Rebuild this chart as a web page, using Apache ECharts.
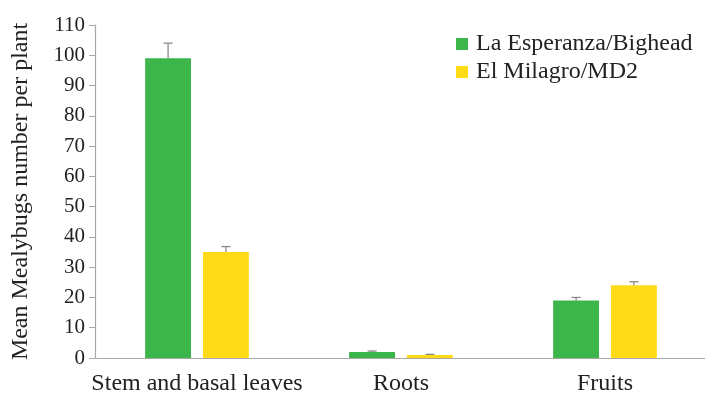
<!DOCTYPE html>
<html>
<head>
<meta charset="utf-8">
<script src="https://cdn.jsdelivr.net/npm/echarts@6/dist/echarts.min.js"></script>
<style>
  html, body { margin: 0; padding: 0; background: #fff; }
  #chart { width: 705px; height: 393px; }
</style>
</head>
<body>
<div id="chart"></div>
<script>
// Plant parts sampled
const categories = ['Stem and basal leaves', 'Roots', 'Fruits'];
const seriesNames = ['La Esperanza/Bighead', 'El Milagro/MD2'];
// Mean mealybug counts per plant
const esperanzaMeans = [99, 2, 19];
const milagroMeans = [35, 1, 24];
// Standard error (upper whisker size)
const esperanzaErr = [5, 0.3, 1];
const milagroErr = [1.8, 0.2, 1.2];
const yTicks = { min: 0, max: 110, step: 10 };

const COLORS = ['#3cb54a', '#ffdb17'];
const BAR_W = 0.225;   // fraction of the category band
const BAR_GAP = 0.26;  // fraction of the bar width
const FONT = '"Liberation Serif", "DejaVu Serif", serif';
const TEXT = '#222';

function errorSeries(means, errs, sideSign) {
  return {
    type: 'custom',
    silent: true,
    z: 3,
    data: means.map((m, i) => [i, m, m + errs[i]]),
    renderItem: function (params, api) {
      const band = api.size([1, 0])[0];
      const w = band * BAR_W;
      const off = sideSign * (w + w * BAR_GAP) / 2;
      const base = api.coord([api.value(0), api.value(1)]);
      const top = api.coord([api.value(0), api.value(2)]);
      const x = base[0] + off;
      const cap = 4.5;
      const style = { stroke: '#8a8a8a', lineWidth: 1.3 };
      return {
        type: 'group',
        children: [
          { type: 'line', shape: { x1: x, y1: base[1], x2: x, y2: top[1] }, style: style },
          { type: 'line', shape: { x1: x - cap, y1: top[1], x2: x + cap, y2: top[1] }, style: style }
        ]
      };
    }
  };
}

const chart = echarts.init(document.getElementById('chart'), null, { renderer: 'canvas' });
chart.setOption({
  animation: false,
  backgroundColor: '#fff',
  textStyle: { fontFamily: FONT },
  grid: { left: 95, right: -2, top: 25, bottom: 35, containLabel: false, outerBoundsMode: 'none' },
  legend: {
    data: seriesNames,
    orient: 'vertical',
    left: 451,
    top: 27,
    itemWidth: 12,
    itemHeight: 12,
    itemGap: 4,
    icon: 'rect',
    textStyle: { fontFamily: FONT, fontSize: 24, color: TEXT, padding: [0, 0, 0, 3] }
  },
  xAxis: {
    type: 'category',
    data: categories,
    axisLine: { lineStyle: { color: '#a8a8a8', width: 1.2 } },
    axisTick: { alignWithLabel: true, length: 5, lineStyle: { color: '#a8a8a8' } },
    axisLabel: { interval: 0, fontFamily: FONT, fontSize: 24, color: TEXT, margin: 14 }
  },
  yAxis: {
    type: 'value',
    min: yTicks.min,
    max: yTicks.max,
    interval: yTicks.step,
    name: 'Mean Mealybugs number per plant',
    nameLocation: 'middle',
    nameGap: 62,
    nameTextStyle: { fontFamily: FONT, fontSize: 24, color: TEXT },
    axisLine: { show: true, lineStyle: { color: '#a8a8a8', width: 1.2 } },
    axisTick: { show: true, length: 6, lineStyle: { color: '#a8a8a8' } },
    axisLabel: { fontFamily: FONT, fontSize: 21, color: TEXT, margin: 10 },
    splitLine: { show: false }
  },
  series: [
    {
      name: seriesNames[0],
      type: 'bar',
      data: esperanzaMeans,
      barWidth: (BAR_W * 100) + '%',
      barGap: (BAR_GAP * 100) + '%',
      itemStyle: { color: COLORS[0] }
    },
    {
      name: seriesNames[1],
      type: 'bar',
      data: milagroMeans,
      barWidth: (BAR_W * 100) + '%',
      barGap: (BAR_GAP * 100) + '%',
      itemStyle: { color: COLORS[1] }
    },
    errorSeries(esperanzaMeans, esperanzaErr, -1),
    errorSeries(milagroMeans, milagroErr, 1)
  ]
});
</script>
</body>
</html>
